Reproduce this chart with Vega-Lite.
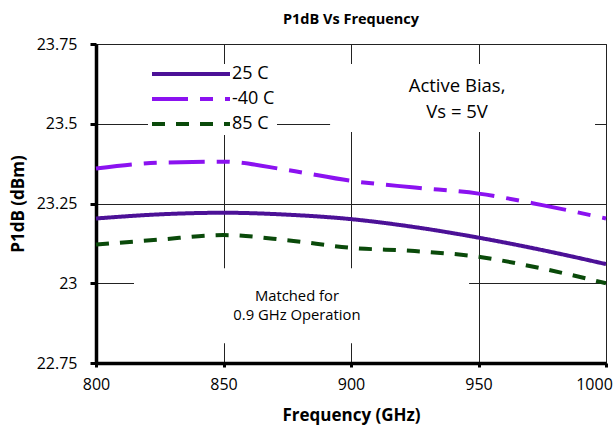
{
  "$schema": "https://vega.github.io/schema/vega-lite/v6.json",
  "width": 510,
  "height": 319,
  "autosize": {"type": "none"},
  "padding": {"left": 96, "top": 44, "right": 9, "bottom": 70},
  "background": "white",
  "title": {"text": "P1dB Vs Frequency", "fontSize": 14.5, "font": "Open Sans", "fontWeight": "bold", "color": "black", "anchor": "middle", "offset": 9},
  "config": {
    "view": {"stroke": "#222222", "strokeWidth": 1},
    "axis": {"labelFont": "Open Sans", "titleFont": "Open Sans", "labelColor": "black", "titleColor": "black", "labelFontSize": 16, "titleFontSize": 17, "titleFontWeight": "bold", "domainColor": "black", "domainWidth": 3.5, "tickColor": "black", "tickWidth": 3, "gridColor": "#222222", "gridWidth": 1, "gridOpacity": 1, "labelFlush": false}
  },
  "datasets": {
    "series": [
      {"freq": 800, "p1db": 23.203, "temp": "25 C"},
      {"freq": 825, "p1db": 23.216, "temp": "25 C"},
      {"freq": 850, "p1db": 23.221, "temp": "25 C"},
      {"freq": 875, "p1db": 23.215, "temp": "25 C"},
      {"freq": 900, "p1db": 23.201, "temp": "25 C"},
      {"freq": 925, "p1db": 23.176, "temp": "25 C"},
      {"freq": 950, "p1db": 23.143, "temp": "25 C"},
      {"freq": 975, "p1db": 23.104, "temp": "25 C"},
      {"freq": 1000, "p1db": 23.06, "temp": "25 C"},
      {"freq": 800, "p1db": 23.36, "temp": "-40 C"},
      {"freq": 825, "p1db": 23.378, "temp": "-40 C"},
      {"freq": 850, "p1db": 23.381, "temp": "-40 C"},
      {"freq": 875, "p1db": 23.355, "temp": "-40 C"},
      {"freq": 900, "p1db": 23.321, "temp": "-40 C"},
      {"freq": 925, "p1db": 23.3, "temp": "-40 C"},
      {"freq": 950, "p1db": 23.281, "temp": "-40 C"},
      {"freq": 975, "p1db": 23.245, "temp": "-40 C"},
      {"freq": 1000, "p1db": 23.203, "temp": "-40 C"},
      {"freq": 800, "p1db": 23.121, "temp": "85 C"},
      {"freq": 825, "p1db": 23.137, "temp": "85 C"},
      {"freq": 850, "p1db": 23.151, "temp": "85 C"},
      {"freq": 875, "p1db": 23.135, "temp": "85 C"},
      {"freq": 900, "p1db": 23.111, "temp": "85 C"},
      {"freq": 925, "p1db": 23.101, "temp": "85 C"},
      {"freq": 950, "p1db": 23.083, "temp": "85 C"},
      {"freq": 975, "p1db": 23.046, "temp": "85 C"},
      {"freq": 1000, "p1db": 23.0, "temp": "85 C"}
    ],
    "boxes": [
      {"freq": 891.8, "freq2": 995.7, "p1db": 23.687, "p1db2": 23.474},
      {"freq": 814.9, "freq2": 946.3, "p1db": 23.047, "p1db2": 22.812}
    ],
    "notes": [
      {"freq": 941.6, "p1db": 23.617, "label": "Active Bias,", "note": "bias"},
      {"freq": 941.6, "p1db": 23.537, "label": "Vs = 5V", "note": "bias"},
      {"freq": 878.8, "p1db": 22.956, "label": "Matched for", "note": "match"},
      {"freq": 878.8, "p1db": 22.897, "label": "0.9 GHz Operation", "note": "match"}
    ]
  },
  "layer": [
    {
      "data": {"name": "boxes"},
      "mark": {"type": "rect", "fill": "white", "stroke": null},
      "encoding": {
        "x": {"field": "freq", "type": "quantitative", "scale": {"domain": [800, 1000]}, "title": "Frequency (GHz)"},
        "x2": {"field": "freq2"},
        "y": {"field": "p1db", "type": "quantitative", "scale": {"domain": [22.75, 23.75]}, "title": "P1dB (dBm)"},
        "y2": {"field": "p1db2"}
      }
    },
    {
      "data": {"name": "series"},
      "mark": {"type": "line", "interpolate": "monotone", "strokeWidth": 4, "strokeCap": "butt"},
      "encoding": {
        "x": {"field": "freq", "type": "quantitative", "scale": {"domain": [800, 1000], "nice": false, "zero": false},
              "title": "Frequency (GHz)",
              "axis": {"values": [800, 850, 900, 950, 1000], "grid": true, "tickSize": 4, "labelPadding": 9, "titlePadding": 15, "format": "d", "labelFlush": false,
                       "labelOffset": {"condition": {"test": "datum.value >= 1000", "value": -12}, "value": 0}}},
        "y": {"field": "p1db", "type": "quantitative", "scale": {"domain": [22.75, 23.75], "nice": false, "zero": false},
              "title": "P1dB (dBm)",
              "axis": {"values": [22.75, 23, 23.25, 23.5, 23.75], "grid": true, "tickSize": 6, "labelPadding": 13, "titlePadding": 9, "format": ".4~g", "labelFlush": false}},
        "color": {"field": "temp", "type": "nominal",
                  "scale": {"domain": ["25 C", "-40 C", "85 C"], "range": ["#4c1197", "#8b12f0", "#0a4a0a"]},
                  "legend": {"orient": "none", "legendX": 52, "legendY": 20, "title": null, "symbolType": "stroke", "symbolSize": 6084, "symbolStrokeWidth": 4, "clipHeight": 16, "rowPadding": 7, "labelFontSize": 18, "labelFont": "Open Sans", "labelColor": "black", "labelOffset": 0, "fillColor": "white", "padding": 2}},
        "strokeDash": {"field": "temp", "type": "nominal",
                  "scale": {"domain": ["25 C", "-40 C", "85 C"], "range": [[1, 0], [36, 12, 13, 12], [13, 11]]}}
      }
    },
    {
      "data": {"name": "notes"},
      "transform": [{"filter": "datum.note === 'bias'"}],
      "mark": {"type": "text", "font": "Open Sans", "fontSize": 18.5, "color": "black", "align": "center", "baseline": "middle"},
      "encoding": {
        "x": {"field": "freq", "type": "quantitative", "scale": {"domain": [800, 1000]}, "title": "Frequency (GHz)"},
        "y": {"field": "p1db", "type": "quantitative", "scale": {"domain": [22.75, 23.75]}, "title": "P1dB (dBm)"},
        "text": {"field": "label"}
      }
    },
    {
      "data": {"name": "notes"},
      "transform": [{"filter": "datum.note === 'match'"}],
      "mark": {"type": "text", "font": "Open Sans", "fontSize": 14.8, "color": "black", "align": "center", "baseline": "middle"},
      "encoding": {
        "x": {"field": "freq", "type": "quantitative", "scale": {"domain": [800, 1000]}, "title": "Frequency (GHz)"},
        "y": {"field": "p1db", "type": "quantitative", "scale": {"domain": [22.75, 23.75]}, "title": "P1dB (dBm)"},
        "text": {"field": "label"}
      }
    }
  ]
}
